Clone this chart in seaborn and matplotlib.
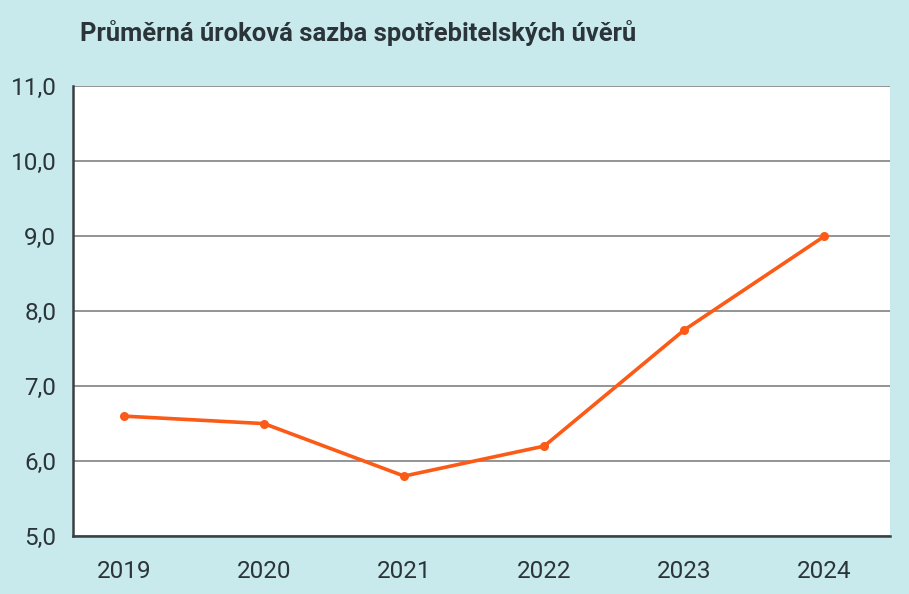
import matplotlib.pyplot as plt
import seaborn as sns
import pandas as pd

# data
years = [2019, 2020, 2021, 2022, 2023, 2024]
sazba = [6.6, 6.5, 5.8, 6.2, 7.75, 9.0]
y_ticks = [5.0, 6.0, 7.0, 8.0, 9.0, 10.0, 11.0]

df = pd.DataFrame({'rok': years, 'sazba': sazba})

sns.set_theme(style="white")
plt.rcParams['font.family'] = ['Roboto', 'DejaVu Sans']

bg = '#c9eaed'
text_col = '#2b3438'
fig = plt.figure(figsize=(9.09, 5.94), dpi=100, facecolor=bg)
ax = fig.add_axes([0.0803, 0.0976, 0.899, 0.757])
ax.set_facecolor('white')

sns.lineplot(data=df, x='rok', y='sazba', ax=ax, color='#fb5a17',
             linewidth=2.6, marker='o', markersize=6.5, markeredgewidth=0)

ax.set_ylim(5, 11)
ax.set_xlim(2018.636, 2024.47)
ax.set_yticks(y_ticks)
ax.set_yticklabels([f'{v:.1f}'.replace('.', ',') for v in y_ticks])
ax.set_xticks(years)
ax.set_xticklabels([str(y) for y in years])

ax.grid(axis='y', color='#7f8284', linewidth=1.2)
ax.grid(axis='x', visible=False)
ax.set_axisbelow(True)

for s in ['top', 'right']:
    ax.spines[s].set_visible(False)
for s in ['left', 'bottom']:
    ax.spines[s].set_color('#3a3f42')
    ax.spines[s].set_linewidth(1.8)

ax.tick_params(axis='y', length=8, width=1.2, color='#3a3f42', pad=4,
               labelsize=17.5, labelcolor=text_col)
ax.tick_params(axis='x', length=0, pad=17, labelsize=17.5, labelcolor=text_col)
ax.set_xlabel('')
ax.set_ylabel('')

fig.text(0.088, 0.945, 'Průměrná úroková sazba spotřebitelských úvěrů',
         fontsize=18.4, fontweight='bold', color=text_col, va='center', ha='left')

plt.savefig('out.png', dpi=100, facecolor=bg)
